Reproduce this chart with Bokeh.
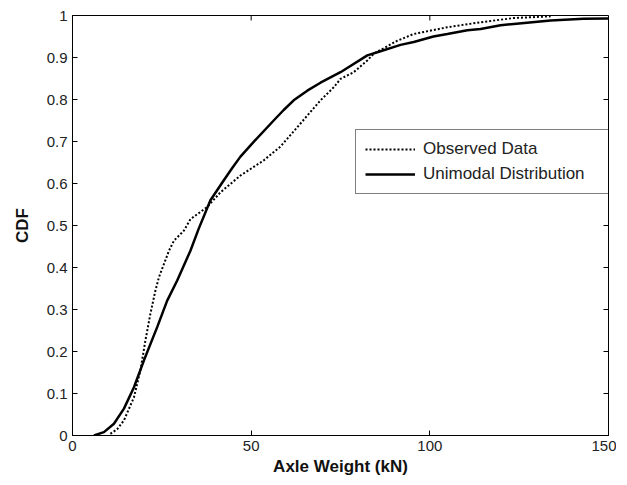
import math
from bokeh.plotting import figure
from bokeh.models import FixedTicker, CustomJSTickFormatter, Legend, LegendItem
from bokeh.embed import file_html
from bokeh.resources import INLINE

# Observed data (dotted)
obs_x = [10.6, 12.5, 14.4, 17.2, 19.0, 20.4, 21.8, 23.2, 24.2, 27.0, 28.4, 31.2, 33.0, 37.7, 41.4,
         47.0, 53.5, 58.2, 62.9, 69.4, 73.1, 75.0, 78.7, 82.5, 84.3, 90.9, 95.5, 104.9, 114.2, 123.5, 133.8]
obs_y = [0.004, 0.015, 0.036, 0.091, 0.155, 0.226, 0.29, 0.345, 0.377, 0.44, 0.464, 0.488, 0.515, 0.544,
         0.579, 0.619, 0.655, 0.688, 0.734, 0.798, 0.829, 0.849, 0.865, 0.893, 0.909, 0.94, 0.956, 0.972,
         0.984, 0.994, 0.998]

# Unimodal distribution (solid)
uni_x = [6.0, 8.8, 11.6, 14.4, 17.2, 20.0, 23.7, 26.5, 29.3, 33.0, 35.3, 38.6, 42.3, 44.7, 47.0, 50.7,
         56.3, 59.1, 61.9, 65.7, 69.4, 75.0, 82.5, 86.2, 91.8, 95.5, 101.0, 104.9, 110.5, 114.2, 119.8,
         123.5, 133.8, 143.0, 150.0]
uni_y = [0.0, 0.008, 0.028, 0.064, 0.115, 0.179, 0.258, 0.321, 0.369, 0.44, 0.492, 0.56, 0.607, 0.637,
         0.664, 0.699, 0.75, 0.775, 0.798, 0.821, 0.84, 0.865, 0.905, 0.915, 0.93, 0.937, 0.95, 0.956,
         0.965, 0.968, 0.977, 0.98, 0.988, 0.992, 0.993]

x_ticks = [0, 50, 100, 150]
y_ticks = [0.0, 0.1, 0.2, 0.3, 0.4, 0.5, 0.6, 0.7, 0.8, 0.9, 1.0]
x_min, x_max = 0, 150
y_min, y_max = 0, 1

FONT = "Liberation Sans"

p = figure(frame_width=536, frame_height=420, x_range=(x_min, x_max), y_range=(y_min, y_max),
           output_backend="svg", toolbar_location=None,
           min_border_left=72, min_border_right=8, min_border_top=15, min_border_bottom=40,
           x_axis_label="Axle Weight (kN)", y_axis_label="CDF")
p.grid.visible = False
p.outline_line_color = "black"
p.outline_line_width = 1
p.background_fill_color = "white"
p.border_fill_color = "white"

fmt = CustomJSTickFormatter(code="return Number(tick.toFixed(1)).toString()")

for ax in p.xaxis:
    ax.ticker = FixedTicker(ticks=x_ticks)
for ax in p.yaxis:
    ax.ticker = FixedTicker(ticks=y_ticks)
    ax.formatter = fmt

for ax in p.xaxis + p.yaxis:
    ax.major_tick_in = 5
    ax.major_tick_out = 0
    ax.minor_tick_in = 0
    ax.minor_tick_out = 0
    ax.axis_line_color = "black"
    ax.major_tick_line_color = "black"
    ax.major_label_text_font = FONT
    ax.major_label_text_font_size = "15px"
    ax.major_label_text_color = "#222222"
    ax.axis_label_text_font = FONT
    ax.axis_label_text_font_style = "bold"
    ax.axis_label_text_font_size = "17px"
    ax.axis_label_text_color = "#111111"

p.xaxis.major_label_standoff = 5
p.xaxis.axis_label_standoff = 3
p.yaxis.major_label_standoff = 5
p.yaxis.axis_label_standoff = 12

# inward ticks on the top and right edges of the box
p.ray(x=x_ticks, y=y_max, length=5, length_units="screen", angle=-math.pi / 2,
      line_color="black", line_width=1)
p.ray(x=x_max, y=y_ticks, length=5, length_units="screen", angle=math.pi,
      line_color="black", line_width=1)

r_obs = p.line(obs_x, obs_y, line_color="black", line_width=2, line_dash="2 2")
r_uni = p.line(uni_x, uni_y, line_color="black", line_width=2.5)

legend = Legend(items=[LegendItem(label="Observed Data", renderers=[r_obs]),
                       LegendItem(label="Unimodal Distribution", renderers=[r_uni])],
                location=(283, 241), orientation="vertical")
legend.label_text_font = FONT
legend.label_text_font_size = "17px"
legend.label_text_color = "#222222"
legend.glyph_width = 50
legend.glyph_height = 18
legend.label_height = 18
legend.label_width = 177
legend.label_standoff = 8
legend.spacing = 5
legend.padding = 9
legend.margin = 0
legend.border_line_color = "black"
legend.border_line_width = 1
legend.background_fill_color = "white"
legend.background_fill_alpha = 1
p.add_layout(legend, "center")

open("out.html", "w").write(file_html(p, INLINE))
